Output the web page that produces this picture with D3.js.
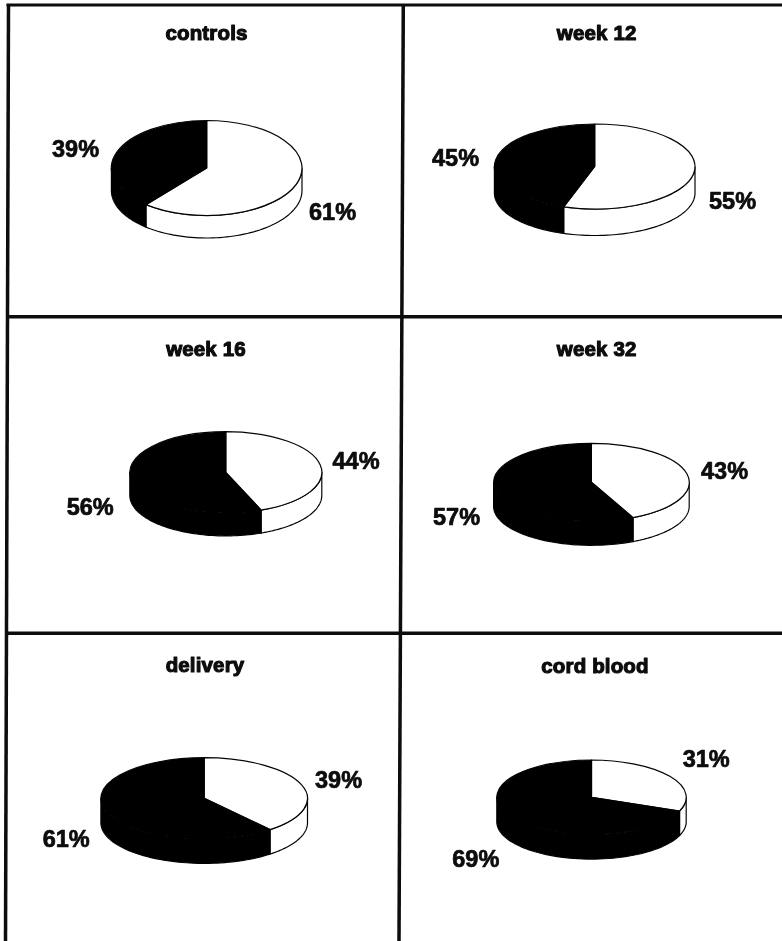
<!DOCTYPE html>
<html>
<head>
<meta charset="utf-8">
<script src="https://cdn.jsdelivr.net/npm/d3@7"></script>
<style>
html,body{margin:0;padding:0;background:#fff;overflow:hidden}
svg{display:block}
text{font-family:"Liberation Sans",Arial,sans-serif;font-weight:700;fill:#0a0a0a;stroke:#0a0a0a;stroke-linejoin:round}
</style>
</head>
<body>
<svg id="c" width="782" height="941"></svg>
<script>
// Data
const categories = ["controls","week 12","week 16","week 32","delivery","cord blood"];
const whiteShare = [61,55,44,43,39,31];
const darkShare  = [39,45,56,57,61,69];

// Layout of each panel (pie centre, radii, thickness, title and label anchors)
const centreX = [206.7,594.7,225.8,591.4,204.2,591.5];
const centreY = [168,166.5,472.3,482.3,798.3,797.3];
const radiusX = [95.3,100.3,96,97.8,103.3,94.7];
const radiusY = [47.5,42.5,40.6,39,40.6,37.3];
const depth   = [22.5,26.5,23,24,24.5,24.5];
const titleX  = [206.5,596.7,206,596.7,205,595];
const titleY  = [39.5,40,356,355.7,671.7,672.7];
const whiteLabelX = [309,709,332.5,701,315,682.7];
const whiteLabelY = [220,209,469,479,787.7,767.3];
const darkLabelX  = [52,432,66.7,433,42.7,452.3];
const darkLabelY  = [157,166,515,525,846.7,867.3];

// Ruled frame: [x1,y1,x2,y2,width]
const frameLines = [
  [6.5,5,782,5,2.8],
  [8.5,4,5.5,941,3.5],
  [403.3,4,399,941,3.5],
  [7,316.8,782,316.8,3.4],
  [6,633.2,782,633.2,3.4]
];

const colorDark = "#050505", colorLight = "#ffffff";

const svg = d3.select("#c");
const defs = svg.append("defs");
defs.append("filter").attr("id","scan").attr("x","-2%").attr("y","-2%").attr("width","104%").attr("height","104%")
  .append("feGaussianBlur").attr("stdDeviation",0.3);
const root = svg.append("g").attr("filter","url(#scan)");

root.append("rect").attr("width",782).attr("height",941).attr("fill","#fff");

root.selectAll("line.frame").data(frameLines).join("line").attr("class","frame")
  .attr("x1",d=>d[0]).attr("y1",d=>d[1]).attr("x2",d=>d[2]).attr("y2",d=>d[3])
  .attr("stroke","#0a0a0a").attr("stroke-width",d=>d[4]);

const pie = d3.pie().sort(null).startAngle(0).endAngle(2*Math.PI);
const unitArc = d3.arc().innerRadius(0).outerRadius(1);

categories.forEach((name,i)=>{
  const g = root.append("g").attr("class","panel");
  const slices = pie([whiteShare[i],darkShare[i]]);
  const fills = [colorLight,colorDark];
  const rx = radiusX[i], ry = radiusY[i], h = depth[i];
  const px = a => Math.sin(a)*rx;
  const py = a => -Math.cos(a)*ry;
  const rim = d3.line().x(d=>d.x).y(d=>d.y);

  const pieG = g.append("g").attr("transform",`translate(${centreX[i]},${centreY[i]})`);

  // Side wall: only the front half of the disc is visible
  slices.forEach((s,k)=>{
    const a0 = Math.max(s.startAngle,Math.PI/2), a1 = Math.min(s.endAngle,3*Math.PI/2);
    if(a1<=a0) return;
    const angles = d3.range(0,61).map(t=>a0+(a1-a0)*t/60);
    const upper = angles.map(a=>({x:px(a),y:py(a)}));
    const lower = angles.slice().reverse().map(a=>({x:px(a),y:py(a)+h}));
    pieG.append("path").attr("d",rim(upper.concat(lower))+"Z")
      .attr("fill",fills[k]).attr("stroke","#050505").attr("stroke-width",1.2).attr("stroke-linejoin","round");
  });

  // Top face: unit-circle arcs squashed to the ellipse
  pieG.selectAll("path.top").data(slices).join("path").attr("class","top")
    .attr("d",unitArc)
    .attr("transform",`scale(${rx},${ry})`)
    .attr("fill",(d,k)=>fills[k])
    .attr("stroke","#050505").attr("stroke-width",1.2)
    .attr("stroke-linejoin","round")
    .attr("vector-effect","non-scaling-stroke");

  g.append("text").attr("x",titleX[i]).attr("y",titleY[i]).attr("text-anchor","middle")
    .attr("font-size",20.5).attr("stroke-width",1.1).attr("letter-spacing",0.15).text(name);
  g.append("text").attr("x",whiteLabelX[i]).attr("y",whiteLabelY[i])
    .attr("font-size",23.5).attr("stroke-width",0.7).text(whiteShare[i]+"%");
  g.append("text").attr("x",darkLabelX[i]).attr("y",darkLabelY[i])
    .attr("font-size",23.5).attr("stroke-width",0.7).text(darkShare[i]+"%");
});
</script>
</body>
</html>
